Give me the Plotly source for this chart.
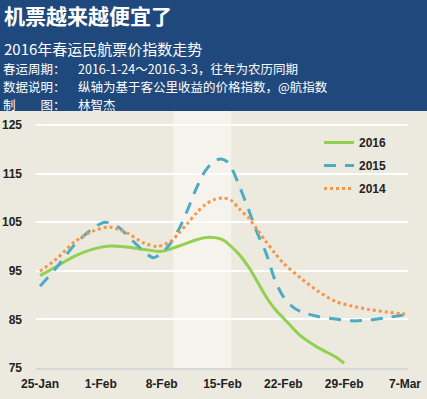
import plotly.graph_objects as go

# ---- data ----
tick_days = [0, 7, 14, 21, 28, 35, 42]
tick_labels = ["25-Jan", "1-Feb", "8-Feb", "15-Feb", "22-Feb", "29-Feb", "7-Mar"]

days_2016 = [0, 2, 4, 6, 8, 10, 12, 14, 16, 18, 19.5, 21, 22, 23, 24, 25, 26, 27, 28, 29, 30, 32, 34, 35]
vals_2016 = [94.0, 96.0, 98.0, 99.4, 100.1, 99.9, 99.4, 99.0, 100.1, 101.4, 101.9, 101.4, 100.0, 98.2,
             95.8, 92.8, 89.7, 87.2, 85.3, 83.4, 81.6, 79.2, 77.3, 76.0]

days_2015 = [0, 2, 4, 6, 7.5, 9, 11, 13, 14, 15, 16, 17, 18, 19, 20, 20.8, 21.5, 22, 23, 24, 25, 26, 27,
             28, 29, 30, 32, 34, 36, 38, 40, 42.2]
vals_2015 = [91.8, 95.9, 100.4, 103.6, 105.0, 104.0, 100.6, 97.7, 98.6, 100.6, 103.6, 107.6, 112.0,
             115.5, 117.5, 118.0, 117.5, 116.3, 112.2, 107.6, 102.8, 98.7, 93.3, 89.7, 87.7, 86.6,
             85.6, 85.1, 84.7, 84.9, 85.4, 86.0]

days_2014 = [0, 2, 4, 6, 8, 10, 12, 13.5, 15, 16, 17, 18, 19, 20, 21, 22, 23, 24, 25, 26, 27, 28, 30,
             32, 34, 36, 38, 40, 42]
vals_2014 = [94.9, 97.6, 101.0, 103.1, 104.0, 102.8, 100.7, 100.0, 101.0, 102.8, 104.8, 106.9, 108.6,
             109.6, 110.0, 109.5, 107.6, 105.9, 103.5, 101.0, 98.7, 96.6, 93.5, 90.8, 88.7, 87.7,
             87.0, 86.5, 86.1]

holiday_start = 15.3
holiday_end = 22.0

title = "机票越来越便宜了"
subtitle = "2016年春运民航票价指数走势"
info_labels = ["春运周期：", "数据说明：", "制　　图："]
info_values = ["2016-1-24～2016-3-3，往年为农历同期",
               "纵轴为基于客公里收益的价格指数，@航指数",
               "林智杰"]

# ---- style ----
BG = "#ECE9DF"
BAND = "#F5F3EC"
NAVY = "#1F497D"
CJK = "Noto Sans CJK SC"
LAT = "Liberation Sans, Arial, sans-serif"

W, H = 427, 399
ML, MR, MT, MB = 36, 19, 111, 31
PW = W - ML - MR
PH = H - MT - MB


def px_x(px):
    return (px - ML) / PW


def px_y(py):
    return (H - MB - py) / PH


fig = go.Figure()

fig.add_trace(go.Scatter(x=days_2016, y=vals_2016, name="2016", mode="lines", legendgroup="a",
                         line=dict(color="#92D050", width=3, shape="spline", smoothing=0.8)))
fig.add_trace(go.Scatter(x=days_2015, y=vals_2015, name="2015", mode="lines", legendgroup="b",
                         line=dict(color="#4BACC6", width=3, dash="12px,9px", shape="spline", smoothing=0.8)))
fig.add_trace(go.Scatter(x=days_2014, y=vals_2014, name="2014", mode="lines", legendgroup="c",
                         line=dict(color="#F79646", width=3, dash="dot", shape="spline", smoothing=0.8)))

shapes = [
    # holiday band
    dict(type="rect", xref="x", yref="paper", x0=holiday_start, x1=holiday_end, y0=0, y1=1,
         fillcolor=BAND, line=dict(width=0), layer="below"),
    # header bar
    dict(type="rect", xref="paper", yref="paper", x0=px_x(-5), x1=px_x(W + 5), y0=1, y1=px_y(-5),
         fillcolor=NAVY, line=dict(width=0), layer="above"),
    # legend backdrop hiding gridline
    dict(type="rect", xref="paper", yref="paper", x0=px_x(299), x1=px_x(406), y0=px_y(200), y1=px_y(130),
         fillcolor=BG, line=dict(width=0), layer="between"),
]

annotations = [
    dict(text="<b>" + title + "</b>", x=px_x(3), y=px_y(15), xref="paper", yref="paper",
         xanchor="left", yanchor="middle", showarrow=False, borderpad=0,
         font=dict(family=CJK, size=21, color="white")),
    dict(text=subtitle, x=px_x(3), y=px_y(49), xref="paper", yref="paper",
         xanchor="left", yanchor="middle", showarrow=False, borderpad=0,
         font=dict(family=CJK, size=15, color="white")),
]
for yy, lab, val in zip([69, 86.5, 104], info_labels, info_values):
    annotations.append(dict(text=lab, x=px_x(2), y=px_y(yy), xref="paper", yref="paper",
                            xanchor="left", yanchor="middle", showarrow=False, borderpad=0,
                            font=dict(family=CJK, size=12.5, color="white")))
    annotations.append(dict(text=val, x=px_x(77), y=px_y(yy), xref="paper", yref="paper",
                            xanchor="left", yanchor="middle", showarrow=False, borderpad=0,
                            font=dict(family=CJK, size=12.5, color="white")))

fig.update_layout(
    width=W, height=H, autosize=False,
    margin=dict(l=ML, r=MR, t=MT, b=MB, pad=0),
    paper_bgcolor=BG, plot_bgcolor=BG,
    shapes=shapes, annotations=annotations,
    showlegend=True,
    legend=dict(x=px_x(319), y=px_y(128), xanchor="left", yanchor="top",
                bgcolor="rgba(0,0,0,0)", borderwidth=0, tracegroupgap=4,
                font=dict(family=LAT, size=12, color="#222222", weight="bold"),
                itemwidth=30),
    xaxis=dict(range=[-0.46, 42.35], tickmode="array", tickvals=tick_days, ticktext=tick_labels,
               showgrid=False, zeroline=False, showline=True, linecolor="#D6D6D6", linewidth=2,
               ticks="", ticklabelstandoff=4, automargin=False,
               tickfont=dict(family=LAT, size=12, color="#222222", weight="bold")),
    yaxis=dict(range=[75, 127.88], tick0=75, dtick=10, showgrid=True, gridcolor="white", gridwidth=2,
               zeroline=False, showline=False, ticks="", ticklabelstandoff=13, automargin=False,
               tickfont=dict(family=LAT, size=12, color="#222222", weight="bold")),
)

fig.write_html("out.html", config={"displayModeBar": False},
               post_script="document.body.style.margin='0';")
